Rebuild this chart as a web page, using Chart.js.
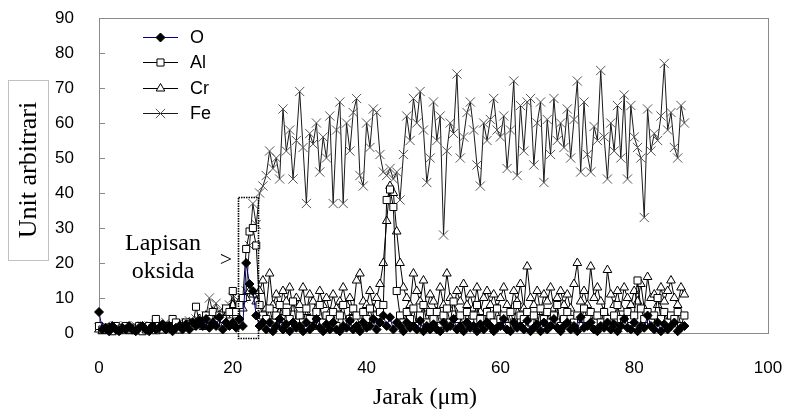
<!DOCTYPE html>
<html><head><meta charset="utf-8">
<script src="https://cdn.jsdelivr.net/npm/chart.js@4/dist/chart.umd.min.js"></script>
<style>html,body{margin:0;padding:0;background:#fff;overflow:hidden}canvas{display:block}</style>
</head><body>
<canvas id="c" width="787" height="417"></canvas>
<script>
// Distance along the line scan (µm)
const distance = [
  0,0.5,1,1.5,2,2.5,3,3.5,4,4.5,
  5,5.5,6,6.5,7,7.5,8,8.5,9,9.5,
  10,10.5,11,11.5,12,12.5,13,13.5,14,14.5,
  15,15.5,16,16.5,17,17.5,18,18.5,19,19.5,
  20,20.5,21,21.5,22,22.5,23,23.5,24,24.5,
  25,25.5,26,26.5,27,27.5,28,28.5,29,29.5,
  30,30.5,31,31.5,32,32.5,33,33.5,34,34.5,
  35,35.5,36,36.5,37,37.5,38,38.5,39,39.5,
  40,40.5,41,41.5,42,42.5,43,43.5,44,44.5,
  45,45.5,46,46.5,47,47.5,48,48.5,49,49.5,
  50,50.5,51,51.5,52,52.5,53,53.5,54,54.5,
  55,55.5,56,56.5,57,57.5,58,58.5,59,59.5,
  60,60.5,61,61.5,62,62.5,63,63.5,64,64.5,
  65,65.5,66,66.5,67,67.5,68,68.5,69,69.5,
  70,70.5,71,71.5,72,72.5,73,73.5,74,74.5,
  75,75.5,76,76.5,77,77.5,78,78.5,79,79.5,
  80,80.5,81,81.5,82,82.5,83,83.5,84,84.5,
  85,85.5,86,86.5,87,87.5
];
const seriesO = [
  6,1,1.5,0.5,2,1,0.5,1.5,1,2,
  1,0.5,1.5,2,1,0.5,2,1,1.5,2.5,
  1,2,0.5,1.5,2,1,2.5,1,3,2,
  3.5,2,4,1.5,3,2,4.5,1,3,2,
  3,1.5,4,2,20,14,12,5,2,3,
  1,3,0.5,2,4,1,2.5,0.5,3,1.5,
  2,0.5,3,1,2,4,1.5,0.5,2.5,1,
  3,1,0.5,2,1.5,3.5,1,2,0.5,3,
  1.5,2,4,1,3,5,2,4.5,1,3,
  2,0.5,3,1.5,2,1,3.5,0.5,2,1,
  2.5,1,0.5,3,1.5,2,4,1,2,0.5,
  3,1.5,2,0.5,2.5,1,3,2,0.5,1.5,
  2,4,1,0.5,3,1.5,2,1,3.5,0.5,
  1.5,2.5,0.5,3,1,2,4,1.5,0.5,2,
  3,1,2,0.5,4.5,1.5,2,3,1,0.5,
  2,1.5,3,1,2.5,0.5,2,4,1.5,1,
  3,0.5,2,1.5,5,2,1,3,0.5,2.5,
  1,2,3,0.5,1.5,2
];
const seriesAl = [
  2,1,1.5,1,0.5,2,1,1.5,2,1,
  1.5,1,2,0.5,1,2,1.5,4,2,1,
  2,1.5,4,3,1,2,3,2.5,2,7.5,
  3,2,5,4,6,3,5,4,7,6,
  12,6,8,10,24,29,30,25,8,5,
  4,7,3,5,8,2,6,4,9,3,
  5,3,7,4,2,6,8,3,5,4,
  6,2,5,8,3,4,7,5,2,6,
  4,7,3,5,6,8,38,41,36,12,
  5,3,6,4,7,2,5,8,3,6,
  4,6,2,5,7,3,9,4,5,2,
  6,3,5,8,4,2,6,5,3,7,
  4,5,2,6,3,8,5,4,6,3,
  5,2,7,4,6,3,5,8,2,4,
  6,4,3,5,2,7,4,6,3,5,
  3,6,4,2,5,8,4,3,6,4,
  5,15,7,4,6,3,5,10,4,6,
  3,5,4,6,2,5
];
const seriesCr = [
  1,0.5,1,1.5,0.5,1,0.5,1,1.5,0.5,
  1,0.5,1.5,1,0.5,1,1.5,0.5,1,2,
  1,1.5,2,1,2.5,1.5,2,3,2,3,
  4,3,5,3.5,6,4,5,6,5,7,
  8,5,9,7,10,12,11,9,12,15,
  7,17,8,11,6,12,9,13,7,10,
  8,13,6,11,9,7,12,8,10,6,
  11,7,9,13,8,10,6,15,17,9,
  8,12,7,10,14,20,32,42,40,29,
  20,13,10,8,17,12,9,15,7,11,
  9,6,13,8,17,10,7,12,9,14,
  8,11,7,13,6,10,12,8,11,7,
  10,13,8,6,12,9,14,7,19,10,
  8,12,6,11,9,13,7,10,12,8,
  11,7,14,20,9,12,8,19,10,13,
  9,6,18,11,8,12,7,13,10,8,
  12,9,14,7,16,10,11,8,13,9,
  12,15,10,8,13,11
];
const seriesFe = [
  1.5,1,2,1,1.5,2,1,1.5,2,1,
  1.5,2,1,2,1.5,2,1,2.5,1.5,2,
  3,1.5,2,2.5,3,2,3,3.5,3,4,
  3.5,4,5,10,6,8.5,5,6,7,8,
  10,8,9,10,12,25,37,31,40,42,
  45,52,47,50,44,64,52,58,44,55,
  69,53,37,57,54,60,46,56,50,62,
  37,58,66,37,60,52,63,67,45,42,
  60,53,64,63,51,46,45,47,44,46,
  38,51,62,55,67,60,69,58,43,50,
  66,55,62,28,52,60,57,74,50,56,
  63,66,58,48,42,60,55,61,67,58,
  56,62,47,58,72,45,65,52,66,67,
  48,60,66,43,61,51,67,55,60,53,
  64,50,61,72,46,66,51,46,59,55,
  75,56,44,60,52,65,50,68,44,65,
  56,53,50,33,64,52,57,55,62,77,
  58,63,53,50,65,60
];
const seriesNames = ['O','Al','Cr','Fe'];
const xTickValues = [0,20,40,60,80,100];
const yTickValues = [0,10,20,30,40,50,60,70,80,90];
const xTitle = 'Jarak (μm)';
const yTitle = 'Unit arbitrari';
const noteLines = ['Lapisan','oksida'];

const toPoints = vals => distance.map((d,i)=>({x:d, y:vals[i]}));

const styles = [
  {borderColor:'#000080', pointStyle:'rectRot', pointRadius:4.5, pointBackgroundColor:'#000', pointBorderColor:'#000'},
  {borderColor:'#000', pointStyle:'rect', pointRadius:5, pointBackgroundColor:'#fff', pointBorderColor:'#000'},
  {borderColor:'#000', pointStyle:'triangle', pointRadius:5, pointBackgroundColor:'#fff', pointBorderColor:'#000'},
  {borderColor:'#1a1a1a', pointStyle:'crossRot', pointRadius:6.5, pointBackgroundColor:'#555', pointBorderColor:'#555'}
];
const allSeries = [seriesO, seriesAl, seriesCr, seriesFe];
const datasets = allSeries.map((vals,i)=>Object.assign({
  label: seriesNames[i], data: toPoints(vals), borderWidth:1, pointBorderWidth:1,
  tension:0, clip:false, order:i
}, styles[i]));

const deco = {
  id:'deco',
  beforeDatasetsDraw(chart){
    const {ctx, chartArea:a, scales:{y}} = chart;
    ctx.save();
    ctx.strokeStyle='#8a8a8a'; ctx.lineWidth=1;
    ctx.strokeRect(Math.round(a.left)+0.5, Math.round(a.top)+0.5, Math.round(a.right-a.left), Math.round(a.bottom-a.top));
    yTickValues.forEach(v=>{
      const py=Math.round(y.getPixelForValue(v))+0.5;
      ctx.beginPath(); ctx.moveTo(a.left, py); ctx.lineTo(a.left+6, py); ctx.stroke();
    });
    ctx.restore();
  },
  afterDatasetsDraw(chart){
    const {ctx, scales:{x,y}} = chart;
    ctx.save();
    // dotted box around oxide layer
    const x1=x.getPixelForValue(20.8), x2=x.getPixelForValue(23.8);
    const y1=y.getPixelForValue(39), y2=y.getPixelForValue(-1.2);
    ctx.setLineDash([1.5,1]); ctx.lineWidth=1.6; ctx.strokeStyle='#000';
    ctx.strokeRect(Math.round(x1)+0.5, Math.round(y1)+0.5, Math.round(x2-x1), Math.round(y2-y1));
    ctx.setLineDash([]);
    // note text
    ctx.fillStyle='#000';
    ctx.font='24px "Liberation Serif", "Times New Roman", serif';
    ctx.textAlign='center'; ctx.textBaseline='middle';
    ctx.fillText(noteLines[0], 163, 244);
    ctx.fillText(noteLines[1], 163, 272);
    ctx.font='22px "Liberation Serif", serif';
    ctx.fillText('>', 226, 260);
    // legend
    ctx.font='18px "Liberation Sans", Arial, sans-serif';
    ctx.textAlign='left';
    const rows=[37,62,88,113];
    datasets.forEach((ds,i)=>{
      const ry=rows[i]+0.5;
      ctx.strokeStyle=ds.borderColor; ctx.lineWidth=1;
      ctx.beginPath(); ctx.moveTo(143,ry); ctx.lineTo(178,ry); ctx.stroke();
      ctx.fillStyle=ds.pointBackgroundColor; ctx.strokeStyle=ds.pointBorderColor;
      Chart.helpers.drawPoint(ctx,{pointStyle:ds.pointStyle, radius:ds.pointRadius, borderWidth:1, rotation:0},160.5,ry);
      ctx.fillStyle='#000';
      ctx.fillText(seriesNames[i], 190, rows[i]+1);
    });
    // y title box
    ctx.strokeStyle='#c0c0c0'; ctx.lineWidth=1;
    ctx.strokeRect(8.5,80.5,40,180);
    ctx.save();
    ctx.translate(29,170); ctx.rotate(-Math.PI/2);
    ctx.font='26px "Liberation Serif", "Times New Roman", serif';
    ctx.textAlign='center'; ctx.textBaseline='middle';
    ctx.fillText(yTitle,0,0);
    ctx.restore();
    // x title
    ctx.font='24px "Liberation Serif", "Times New Roman", serif';
    ctx.textAlign='center'; ctx.textBaseline='middle';
    ctx.fillText(xTitle, 425, 398);
    ctx.restore();
  }
};

new Chart(document.getElementById('c'), {
  type:'line',
  data:{datasets},
  options:{
    responsive:false, animation:false, devicePixelRatio:1,
    layout:{padding:{top:18,right:19,left:0,bottom:0}},
    plugins:{legend:{display:false}, tooltip:{enabled:false}},
    scales:{
      x:{type:'linear', min:0, max:100,
         afterBuildTicks:s=>{s.ticks=xTickValues.map(v=>({value:v}));},
         ticks:{font:{family:'"Liberation Sans", Arial, sans-serif', size:17}, color:'#000', padding:17, maxRotation:0},
         grid:{display:false}, border:{display:false},
         afterFit:s=>{s.height=84; s.paddingLeft=0; s.paddingRight=0;}},
      y:{type:'linear', min:0, max:90,
         afterBuildTicks:s=>{s.ticks=yTickValues.map(v=>({value:v}));},
         ticks:{font:{family:'"Liberation Sans", Arial, sans-serif', size:17}, color:'#000', padding:17},
         grid:{display:false}, border:{display:false},
         afterFit:s=>{s.width=99; s.paddingTop=0; s.paddingBottom=0;}}
    }
  },
  plugins:[deco]
});
</script>
</body></html>
